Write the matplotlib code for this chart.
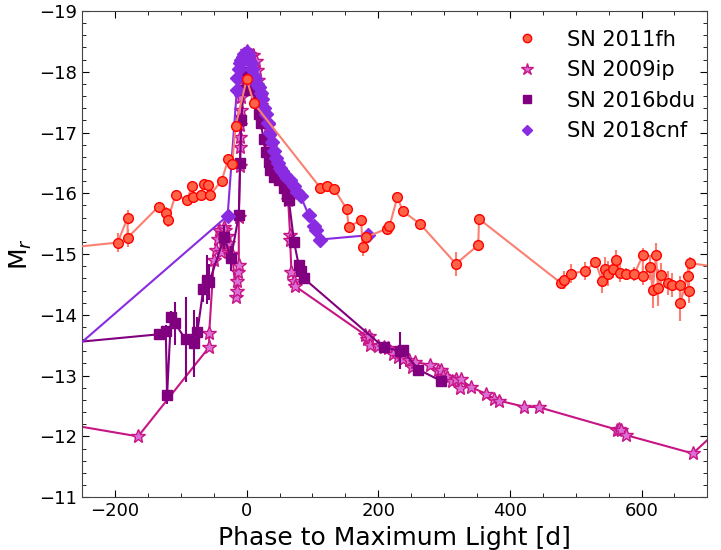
import matplotlib
matplotlib.use("Agg")
import matplotlib.pyplot as plt
from matplotlib.lines import Line2D

# SN 2011fh
x11 = [-320, -196, -181, -181, -134, -122, -120, -108, -91, -83, -82, -70, -65, -59, -56, -38, -28, -22, -17, 0,
       11, 112, 122, 133, 152, 155, 174, 176, 182, 213, 217, 229, 237, 264, 318, 352, 353, 478, 482, 493,
       514, 530, 540, 544, 549, 556, 562, 567, 576, 589, 602, 602, 613, 617, 622, 625, 629, 641, 647, 659,
       659, 670, 672, 673, 730]
y11 = [-15.05, -15.19, -15.60, -15.27, -15.78, -15.67, -15.56, -15.98, -15.89, -16.12, -15.94, -15.97, -16.16,
       -16.14, -15.97, -16.21, -16.56, -16.48, -17.10, -17.88, -17.48, -16.09, -16.12, -16.07, -15.74, -15.45,
       -15.56, -15.12, -15.28, -15.42, -15.46, -15.94, -15.71, -15.49, -14.84, -15.15, -15.58, -14.52, -14.58,
       -14.68, -14.72, -14.87, -14.56, -14.75, -14.68, -14.75, -14.91, -14.69, -14.67, -14.67, -14.98, -14.64,
       -14.78, -14.41, -14.98, -14.45, -14.65, -14.52, -14.49, -14.49, -14.20, -14.64, -14.40, -14.85, -14.77]
e11 = [0.1, 0.15, 0.12, 0.15, 0.08, 0.1, 0.12, 0.08, 0.08, 0.08, 0.08, 0.08, 0.08, 0.08, 0.1, 0.06, 0.06, 0.06,
       0.05, 0.05, 0.05, 0.06, 0.06, 0.06, 0.08, 0.08, 0.08, 0.15, 0.08, 0.06, 0.06, 0.06, 0.06, 0.05, 0.2, 0.1,
       0.06, 0.1, 0.15, 0.15, 0.15, 0.08, 0.2, 0.2, 0.2, 0.15, 0.15, 0.15, 0.1, 0.12, 0.12, 0.15, 0.2, 0.3, 0.2,
       0.3, 0.2, 0.2, 0.2, 0.15, 0.3, 0.2, 0.2, 0.1, 0.1]

# SN 2009ip
x09 = [-300, -165, -57, -57, -50, -47, -44, -42, -39, -37, -35, -33, -31, -30, -28, -25, -22, -16, -15, -14,
       -13, -12, -12, -10, -10, -10, -10, -8, -9, -5, -2, 0, 4, 6, 10, 14, 15, 17, 18, 20, 21, 25, 32, 34, 36,
       39, 44, 52, 55, 61, 63, 66, 66, 68, 72, 74, 180, 183, 186, 188, 200, 208, 215, 223, 230, 238, 246, 251,
       256, 279, 291, 295, 298, 304, 312, 318, 324, 325, 341, 364, 376, 383, 421, 444, 563, 566, 569, 577,
       678, 720]
y09 = [-12.25, -12.0, -13.47, -13.70, -14.9, -15.07, -15.25, -15.4, -15.04, -15.34, -15.45, -15.4, -15.15,
       -15.3, -15.18, -15.0, -15.0, -14.3, -14.4, -14.55, -14.7, -14.82, -15.61, -16.45, -16.77, -16.93, -17.12,
       -17.37, -17.59, -17.9, -18.28, -18.35, -18.3, -18.28, -18.28, -18.17, -18.03, -17.86, -17.72, -17.59,
       -17.45, -17.29, -17.11, -16.93, -16.77, -16.60, -16.44, -16.27, -16.2, -16.08, -15.89, -15.31, -15.23,
       -14.71, -14.55, -14.47, -13.67, -13.6, -13.65, -13.50, -13.48, -13.47, -13.45, -13.36, -13.3, -13.28,
       -13.25, -13.14, -13.23, -13.17, -13.09, -13.1, -13.0, -12.98, -12.91, -12.95, -12.79, -12.94, -12.81,
       -12.70, -12.62, -12.59, -12.49, -12.48, -12.11, -12.12, -12.1, -12.02, -11.72, -12.14]

# SN 2016bdu
x16 = [-290, -134, -123, -121, -115, -109, -93, -80, -75, -66, -61, -57, -34, -24, -12, -10, -8, -5, -2, 2,
       6, 10, 14, 18, 21, 26, 29, 34, 36, 41, 49, 56, 62, 64, 72, 79, 82, 87, 208, 233, 237, 261, 296]
y16 = [-13.52, -13.68, -13.73, -12.68, -13.97, -13.86, -13.60, -13.53, -13.72, -14.42, -14.58, -14.54, -15.28,
       -14.93, -15.64, -16.5, -17.2, -17.7, -17.95, -18.0, -17.9, -17.7, -17.5, -17.3, -17.15, -16.9, -16.68,
       -16.52, -16.38, -16.27, -16.22, -16.08, -15.95, -15.89, -15.20, -14.82, -14.72, -14.60, -13.47, -13.41,
       -13.42, -13.10, -12.91]
e16 = [0.05, 0.05, 0.1, 0.15, 0.1, 0.35, 0.7, 0.55, 0.25, 0.2, 0.4, 0.3, 0.2, 0.2, 0.05, 0.05, 0.05, 0.05,
       0.05, 0.05, 0.05, 0.05, 0.05, 0.05, 0.05, 0.05, 0.05, 0.05, 0.05, 0.05, 0.05, 0.05, 0.05, 0.05, 0.05,
       0.05, 0.05, 0.05, 0.05, 0.3, 0.05, 0.05, 0.05]

# SN 2018cnf
x18 = [-290, -29, -15, -14, -12, -10, -8, -6, -4, -2, 0, 2, 4, 6, 8, 10, 12, 15, 18, 21, 24, 27, 29, 32, 36,
       38, 41, 44, 47, 50, 53, 58, 62, 66, 72, 77, 82, 94, 102, 105, 112, 184]
y18 = [-13.18, -15.63, -17.70, -17.9, -18.05, -18.15, -18.2, -18.25, -18.3, -18.3, -18.32, -18.28, -18.2,
       -18.15, -18.05, -17.95, -17.9, -17.8, -17.75, -17.65, -17.55, -17.4, -17.3, -17.15, -17.0, -16.85, -16.7,
       -16.58, -16.5, -16.42, -16.36, -16.3, -16.26, -16.22, -16.12, -16.03, -15.95, -15.65, -15.47, -15.4,
       -15.24, -15.31]

names = ["SN 2011fh", "SN 2009ip", "SN 2016bdu", "SN 2018cnf"]

fig = plt.figure(figsize=(7.21, 5.5), dpi=100)
ax = fig.add_axes([0.114, 0.096, 0.867, 0.884])

ax.errorbar(x09, y09, fmt="-*", color="mediumvioletred", mfc="orchid", mec="mediumvioletred",
            ms=10, lw=1.5, mew=1, zorder=2)
ax.errorbar(x16, y16, yerr=e16, fmt="-s", color="purple", ms=6.5, lw=1.5, elinewidth=1.5, zorder=3)
ax.errorbar(x18, y18, fmt="-D", color="blueviolet", ms=7, lw=1.5, zorder=4)
ax.errorbar(x11, y11, yerr=e11, fmt="-o", color="salmon", mfc="tomato", mec="red", ms=7, lw=1.5,
            elinewidth=1.5, mew=1, zorder=5)

handles = [
    Line2D([], [], ls="none", marker="o", mfc="tomato", mec="red", ms=6),
    Line2D([], [], ls="none", marker="*", mfc="orchid", mec="mediumvioletred", ms=9),
    Line2D([], [], ls="none", marker="s", color="purple", ms=5.5),
    Line2D([], [], ls="none", marker="D", color="blueviolet", ms=5.5),
]
ax.legend(handles, names, loc="upper right", frameon=False, fontsize=15, handletextpad=0.9,
          labelspacing=0.5, bbox_to_anchor=(1.01, 1.0))

ax.set_xlim(-250, 700)
ax.set_ylim(-11, -19)
ax.set_xticks([-200, 0, 200, 400, 600])
ax.set_yticks([-19, -18, -17, -16, -15, -14, -13, -12, -11])
ax.minorticks_on()
ax.xaxis.set_minor_locator(matplotlib.ticker.MultipleLocator(50))
ax.yaxis.set_minor_locator(matplotlib.ticker.MultipleLocator(0.2))
ax.tick_params(which="both", direction="in", top=True, right=True, labelsize=13)
ax.tick_params(which="major", length=5)
ax.tick_params(which="minor", length=3)
for s in ax.spines.values():
    s.set_color("#444444")

ax.set_xlabel("Phase to Maximum Light [d]", fontsize=18)
ax.set_ylabel(r"M$_r$", fontsize=18)

fig.savefig("out.png", dpi=100)
